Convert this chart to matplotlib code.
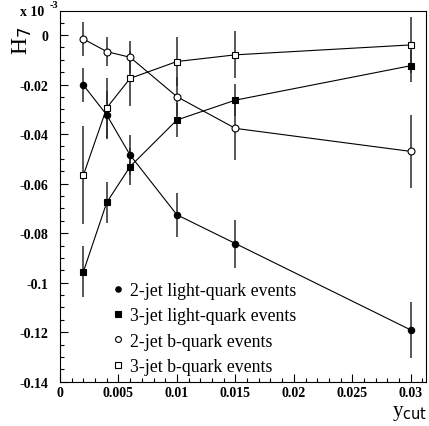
import matplotlib
matplotlib.use("Agg")
import matplotlib.pyplot as plt
from matplotlib.ticker import MultipleLocator, FuncFormatter

ycut = [0.002, 0.004, 0.006, 0.010, 0.015, 0.030]

light2 = [-0.0202, -0.0323, -0.0485, -0.0726, -0.0842, -0.1191]
light2_err = [0.0069, 0.0097, 0.0080, 0.0089, 0.0097, 0.0114]

light3 = [-0.0956, -0.0676, -0.0531, -0.0343, -0.0263, -0.0124]
light3_err = [0.0103, 0.0083, 0.0075, 0.0070, 0.0064, 0.0065]

b2 = [-0.0016, -0.0067, -0.0090, -0.0249, -0.0377, -0.0470]
b2_err = [0.0069, 0.0058, 0.0065, 0.0080, 0.0128, 0.0146]

b3 = [-0.0566, -0.0294, -0.0175, -0.0107, -0.0080, -0.0040]
b3_err = [0.0198, 0.0120, 0.0110, 0.0099, 0.0095, 0.0112]

labels = ["2-jet light-quark events", "3-jet light-quark events",
          "2-jet b-quark events", "3-jet b-quark events"]

W, H = 429, 427
fig = plt.figure(figsize=(W / 100, H / 100), dpi=100)
ax = fig.add_axes([60 / W, (H - 382.7) / H, (425.7 - 60) / W, (382.7 - 12) / H])

serif = ["Liberation Serif", "DejaVu Serif"]

series = [
    (light2, light2_err, dict(marker="o", mfc="black", ms=4.6)),
    (light3, light3_err, dict(marker="s", mfc="black", ms=4.6)),
    (b2, b2_err, dict(marker="o", mfc="white", ms=5.0)),
    (b3, b3_err, dict(marker="s", mfc="white", ms=5.0)),
]
handles = []
for (vals, errs, st), lab in zip(series, labels):
    ax.errorbar(ycut, vals, yerr=errs, fmt="none", ecolor="#2a2a2a",
                elinewidth=1.1, capsize=0, zorder=2)
    ln, = ax.plot(ycut, vals, color="black", lw=0.8, mec="black", mew=0.8,
                  zorder=3, label=lab, **st)
    handles.append(ln)

ax.set_xlim(0, 0.03128)
ax.set_ylim(-0.14, 0.0097)

ax.xaxis.set_major_locator(MultipleLocator(0.005))
ax.xaxis.set_minor_locator(MultipleLocator(0.001))
ax.yaxis.set_major_locator(MultipleLocator(0.02))
ax.yaxis.set_minor_locator(MultipleLocator(0.005))

def fmt(v, pos):
    if abs(v) < 1e-12:
        return "0"
    s = ("%.3f" % v).rstrip("0").rstrip(".")
    return s

ax.xaxis.set_major_formatter(FuncFormatter(fmt))
ax.yaxis.set_major_formatter(FuncFormatter(fmt))

ax.tick_params(which="both", direction="in", top=False, right=False, width=0.8)
ax.tick_params(which="major", length=6)
ax.tick_params(which="minor", length=3)
ax.tick_params(axis="y", pad=8.5)
ax.tick_params(axis="x", pad=3)
for lab in ax.get_xticklabels() + ax.get_yticklabels():
    lab.set_fontfamily(serif)
    lab.set_fontweight("bold")
    lab.set_fontsize(10)
for sp in ax.spines.values():
    sp.set_linewidth(0.8)

# axis titles
fig.text(22 / W, 1 - 27 / H, r"H$_{7}$", rotation=90, ha="center", va="top",
         fontsize=17, family=serif)
fig.text(427 / W, 1 - 416 / H, r"y$_{\rm cut}$", ha="right", va="baseline",
         fontsize=15, family=serif)
fig.text(20 / W, 1 - 13 / H, "x 10", ha="left", va="center",
         fontsize=10, fontweight="bold", family=serif)
fig.text(50 / W, 1 - 5 / H, "-3", ha="left", va="center",
         fontsize=7.5, fontweight="bold", family=serif)

leg = fig.legend(handles=handles, labels=labels, loc="upper left",
                 bbox_to_anchor=(110 / W, 1 - 283 / H), frameon=False,
                 borderaxespad=0, borderpad=0, handlelength=0.9,
                 handletextpad=0.25, labelspacing=0.47, markerscale=0.85,
                 prop=dict(family=serif, size=12.8))
for h in leg.legend_handles:
    h.set_linestyle("none")

fig.savefig("out.png", dpi=100)
